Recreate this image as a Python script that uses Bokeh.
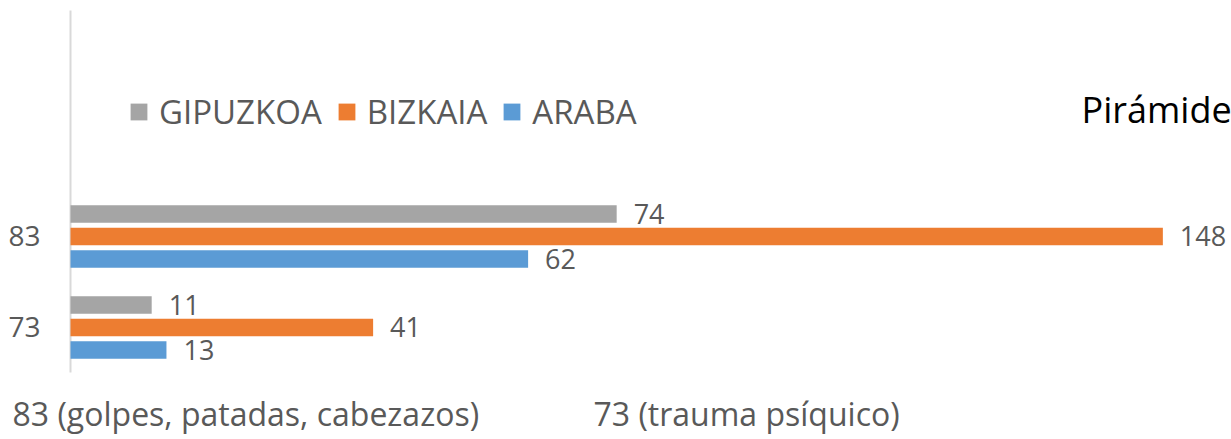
from bokeh.plotting import figure
from bokeh.models import Range1d, Label, Legend, LegendItem
from bokeh.embed import file_html
from bokeh.resources import INLINE
from bokeh.core.properties import value

# ---- data ----
categories = ["83", "73"]
series = ["GIPUZKOA", "BIZKAIA", "ARABA"]
gipuzkoa = [74, 11]
bizkaia = [148, 41]
araba = [62, 13]
series_values = [gipuzkoa, bizkaia, araba]
colors = ["#A5A5A5", "#ED7D31", "#5B9BD5"]
category_notes = ["83 (golpes, patadas, cabezazos)", "73 (trauma psíquico)"]
title_text = "Pirámide"

FONT = "Open Sans"
TXT = "#595959"

W, H = 1231, 439
p = figure(width=W, height=H, output_backend="svg", toolbar_location=None,
           x_range=Range1d(-9.485, 157.3), y_range=Range1d(2.231, -2.593),
           x_axis_location=None, y_axis_location=None,
           min_border=0)
p.outline_line_color = None
p.xgrid.visible = False
p.ygrid.visible = False
p.background_fill_color = "white"
p.border_fill_color = "white"

idx = list(range(len(categories)))

# category axis line (at value 0)
p.segment(x0=[0], y0=[-2.483], x1=[0], y1=[1.495], line_color="#D9D9D9", line_width=2)
# category labels
p.text(x=[0] * len(idx), y=idx, text=categories, x_offset=-30,
       text_align="right", text_baseline="middle",
       text_font=value(FONT), text_font_size="28px", text_color=TXT)

step = 0.247
bar_h = 0.192
renderers = []
for j, (name, vals, col) in enumerate(zip(series, series_values, colors)):
    ys = [i + (j - 1) * step for i in idx]
    r = p.hbar(y=ys, left=0, right=vals, height=bar_h, fill_color=col,
               line_color=None)
    renderers.append(r)
    p.text(x=vals, y=ys, text=[str(v) for v in vals], x_offset=17,
           text_baseline="middle", text_align="left",
           text_font=value(FONT), text_font_size="27px", text_color=TXT)

legend = Legend(items=[LegendItem(label=s, renderers=[r]) for s, r in zip(series, renderers)],
                orientation="horizontal", location=(128, 305),
                glyph_width=21, glyph_height=21, label_standoff=10, spacing=14,
                padding=0, margin=0, border_line_color=None, background_fill_alpha=0,
                label_text_font=FONT, label_text_font_size="33px", label_text_color=TXT)
p.add_layout(legend)

p.add_layout(Label(x=1081, y=330, x_units="screen", y_units="screen", text=title_text,
                   text_font=FONT, text_font_size="36px", text_color="#000000",
                   text_baseline="alphabetic"))
for note, xs in zip(category_notes, [12, 593]):
    p.add_layout(Label(x=xs, y=26, x_units="screen", y_units="screen", text=note,
                       text_font=FONT, text_font_size="32px", text_color=TXT,
                       text_baseline="alphabetic"))

open("out.html", "w").write(file_html(p, INLINE))
